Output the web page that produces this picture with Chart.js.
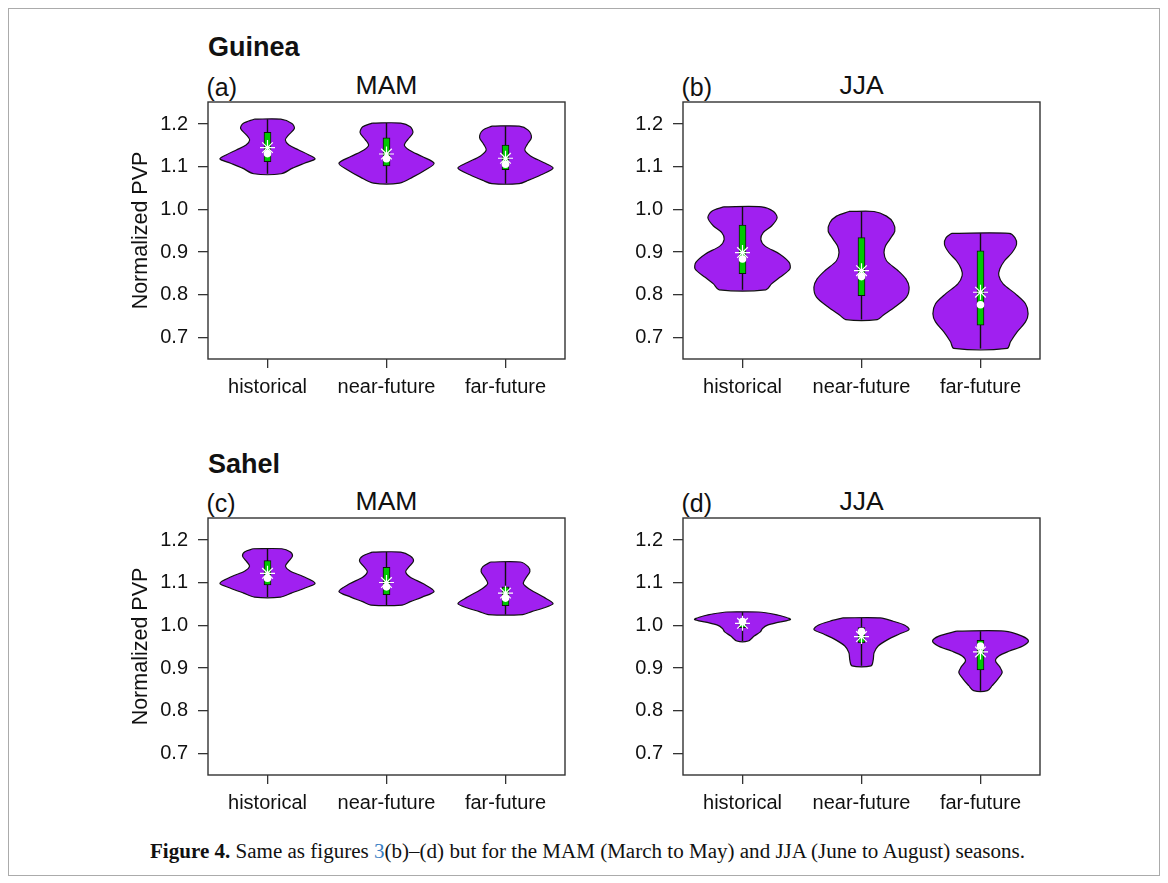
<!DOCTYPE html>
<html>
<head>
<meta charset="utf-8">
<script src="https://cdn.jsdelivr.net/npm/chart.js@4.4.1/dist/chart.umd.min.js"></script>
<style>
  html, body { margin: 0; padding: 0; background: #fff; }
  body { position: relative; width: 1168px; height: 883px; overflow: hidden;
         font-family: "Liberation Sans", Arial, sans-serif; color: #111; }
  .frame { position: absolute; left: 8px; top: 8px; width: 1152px; height: 868px;
           border: 1px solid #ababab; box-sizing: border-box; }
  .panel { position: absolute; width: 455px; height: 334px; }
  .txt { position: absolute; line-height: 1; white-space: nowrap; }
  .region { font-weight: bold; font-size: 27px; left: 208px; }
  .tag { font-size: 25px; }
  .season { font-size: 26.5px; width: 357px; text-align: center; }
  .caption { position: absolute; left: 150px; top: 841px; line-height: 1; white-space: nowrap;
             font-family: "Liberation Serif", "Times New Roman", serif; font-size: 20px; color: #111;
             transform-origin: 0 0; }
  .caption .ref { color: #3a7fc4; }
</style>
</head>
<body>
<div class="frame"></div>

<div class="txt region" style="top:34.4px">Guinea</div>
<div class="txt region" style="top:450.8px">Sahel</div>

<div class="txt tag" style="left:206.5px; top:74.8px">(a)</div>
<div class="txt tag" style="left:681.5px; top:74.8px">(b)</div>
<div class="txt tag" style="left:206.5px; top:491.2px">(c)</div>
<div class="txt tag" style="left:681.5px; top:491.2px">(d)</div>

<div class="txt season" style="left:208px; top:72px">MAM</div>
<div class="txt season" style="left:683px; top:72px">JJA</div>
<div class="txt season" style="left:208px; top:488.4px">MAM</div>
<div class="txt season" style="left:683px; top:488.4px">JJA</div>

<canvas id="pa" class="panel" width="455" height="334" style="left:120px; top:80px"></canvas>
<canvas id="pb" class="panel" width="455" height="334" style="left:595px; top:80px"></canvas>
<canvas id="pc" class="panel" width="455" height="334" style="left:120px; top:496px"></canvas>
<canvas id="pd" class="panel" width="455" height="334" style="left:595px; top:496px"></canvas>

<div class="caption" id="cap"><b>Figure 4.</b> Same as figures <span class="ref">3</span>(b)–(d) but for the MAM (March to May) and JJA (June to August) seasons.</div>

<script>
// ---- shared axis content ----
const categories = ['historical', 'near-future', 'far-future'];
const yTicks = [0.7, 0.8, 0.9, 1.0, 1.1, 1.2];
const yRange = [0.6495, 1.2519];

// ---- violin outlines: [value, half-width] pairs from top to bottom ----
// Guinea, MAM
const guineaMamShapes = [
  [[1.2116,0.112],[1.2015,0.205],[1.1898,0.226],[1.1743,0.176],[1.1627,0.150],[1.1511,0.180],
   [1.1395,0.262],[1.1278,0.348],[1.1185,0.400],[1.1084,0.310],[1.0968,0.210],[1.0837,0.115]],
  [[1.2025,0.120],[1.1937,0.200],[1.1798,0.222],[1.1642,0.180],[1.1512,0.150],[1.1395,0.190],
   [1.1240,0.300],[1.1084,0.400],[1.0930,0.330],[1.0758,0.220],[1.0619,0.110]],
  [[1.1953,0.115],[1.1860,0.190],[1.1689,0.218],[1.1535,0.185],[1.1395,0.162],[1.1256,0.210],
   [1.1100,0.320],[1.0968,0.400],[1.0814,0.300],[1.0681,0.190],[1.0605,0.115]]
];
const guineaMamQ1 = [1.112, 1.102, 1.093];
const guineaMamQ3 = [1.181, 1.168, 1.151];
const guineaMamMedian = [1.131, 1.119, 1.106];
const guineaMamMean = [1.145, 1.130, 1.120];

// Guinea, JJA
const guineaJjaShapes = [
  [[1.0061,0.160],[0.9960,0.258],[0.9805,0.291],[0.9612,0.244],[0.9457,0.174],[0.9302,0.154],
   [0.9147,0.188],[0.8953,0.314],[0.8759,0.392],[0.8604,0.398],[0.8410,0.314],[0.8255,0.244],[0.8116,0.196]],
  [[0.9953,0.105],[0.9844,0.210],[0.9690,0.266],[0.9495,0.280],[0.9300,0.238],[0.9147,0.202],
   [0.8990,0.189],[0.8798,0.210],[0.8565,0.308],[0.8372,0.373],[0.8177,0.400],[0.7944,0.378],
   [0.7712,0.280],[0.7519,0.182],[0.7418,0.133]],
  [[0.9441,0.241],[0.9340,0.289],[0.9185,0.303],[0.8991,0.266],[0.8798,0.202],[0.8604,0.162],
   [0.8449,0.154],[0.8255,0.190],[0.8022,0.294],[0.7790,0.378],[0.7557,0.400],[0.7364,0.378],
   [0.7131,0.308],[0.6898,0.252],[0.6743,0.224]]
];
const guineaJjaQ1 = [0.8495, 0.7977, 0.7286];
const guineaJjaQ3 = [0.9635, 0.9340, 0.9030];
const guineaJjaMedian = [0.8840, 0.8426, 0.7767];
const guineaJjaMean = [0.8990, 0.8565, 0.8060];

// Sahel, MAM
const sahelMamShapes = [
  [[1.1798,0.120],[1.1728,0.190],[1.1628,0.210],[1.1512,0.180],[1.1395,0.151],[1.1279,0.190],
   [1.1147,0.300],[1.0991,0.400],[1.0874,0.310],[1.0758,0.200],[1.0665,0.110]],
  [[1.1720,0.120],[1.1628,0.200],[1.1512,0.227],[1.1379,0.190],[1.1263,0.161],[1.1130,0.200],
   [1.0977,0.310],[1.0798,0.400],[1.0665,0.300],[1.0558,0.200],[1.0479,0.130]],
  [[1.1488,0.125],[1.1379,0.190],[1.1263,0.205],[1.1107,0.170],[1.0977,0.150],[1.0837,0.210],
   [1.0665,0.320],[1.0512,0.400],[1.0409,0.320],[1.0326,0.220],[1.0256,0.145]]
];
const sahelMamQ1 = [1.0953, 1.0721, 1.0465];
const sahelMamQ3 = [1.1519, 1.1363, 1.0907];
const sahelMamMedian = [1.1107, 1.0905, 1.0642];
const sahelMamMean = [1.1223, 1.1007, 1.0758];

// Sahel, JJA
const sahelJjaShapes = [
  [[1.0316,0.135],[1.0256,0.280],[1.0193,0.364],[1.0140,0.403],[1.0077,0.308],[1.0007,0.210],
   [0.9930,0.168],[0.9851,0.150],[0.9751,0.098],[0.9635,0.048]],
  [[1.0177,0.157],[1.0100,0.266],[1.0007,0.364],[0.9907,0.400],[0.9805,0.322],[0.9674,0.224],
   [0.9519,0.140],[0.9363,0.106],[0.9186,0.098],[0.9053,0.080]],
  [[0.9867,0.200],[0.9751,0.350],[0.9635,0.403],[0.9519,0.356],[0.9402,0.244],[0.9286,0.154],
   [0.9170,0.126],[0.9030,0.162],[0.8898,0.182],[0.8744,0.146],[0.8588,0.098],[0.8472,0.058]]
];
const sahelJjaQ1 = [0.995, 0.959, 0.896];
const sahelJjaQ3 = [1.013, 0.995, 0.965];
const sahelJjaMedian = [1.009, 0.986, 0.952];
const sahelJjaMean = [1.005, 0.974, 0.938];

// ---- styling ----
const violinFill = '#a020f0';
const boxFill = '#00c800';
const ink = '#111';
const axisInk = '#333';
const fontFamily = '"Liberation Sans", Arial, sans-serif';

// Stroke the full plot box around the chart area.
const plotBox = {
  id: 'plotBox',
  afterDraw(chart) {
    const {ctx, chartArea: a} = chart;
    ctx.save();
    ctx.strokeStyle = axisInk;
    ctx.lineWidth = 1.4;
    ctx.strokeRect(a.left, a.top, a.right - a.left, a.bottom - a.top);
    ctx.restore();
  }
};

function outline(shape, x) {
  // closed path: top-left, down the right side, back up the left side
  const right = shape.map(([v, w]) => ({x: x + w, y: v}));
  const left = shape.map(([v, w]) => ({x: x - w, y: v})).reverse();
  return [{x: x - shape[0][1], y: shape[0][0]}, ...right, ...left];
}

function buildPanel(id, shapes, q1, q3, median, mean, withTitle) {
  const datasets = [];
  shapes.forEach((shape, i) => {
    const x = i + 1;
    datasets.push({
      type: 'scatter', data: outline(shape, x), showLine: true, fill: 'shape',
      backgroundColor: violinFill, borderColor: ink, borderWidth: 1.2,
      pointRadius: 0, tension: 0.3, order: 5
    });
    datasets.push({
      type: 'scatter',
      data: [{x, y: shape[0][0]}, {x, y: shape[shape.length - 1][0]}],
      showLine: true, borderColor: ink, borderWidth: 1.4, pointRadius: 0, order: 4
    });
  });
  datasets.push({
    type: 'bar', data: q1.map((v, i) => ({x: i + 1, y: [v, q3[i]]})),
    backgroundColor: boxFill, borderColor: ink, borderWidth: 1, borderSkipped: false,
    barThickness: 7, order: 3
  });
  datasets.push({
    type: 'scatter', data: median.map((v, i) => ({x: i + 1, y: v})),
    pointStyle: 'circle', pointRadius: 3.8, backgroundColor: '#fff', borderColor: '#fff',
    borderWidth: 0, order: 2
  });
  datasets.push({
    type: 'scatter', data: mean.map((v, i) => ({x: i + 1, y: v})),
    pointStyle: 'star', pointRadius: 7.5, borderColor: '#fff', backgroundColor: '#fff',
    borderWidth: 1.2, order: 1
  });

  new Chart(document.getElementById(id), {
    type: 'scatter',
    data: {datasets},
    plugins: [plotBox],
    options: {
      responsive: false, maintainAspectRatio: false, animation: false, events: [],
      layout: {padding: {top: 20, right: 10, bottom: 0, left: 0}},
      plugins: {legend: {display: false}, tooltip: {enabled: false}},
      scales: {
        x: {
          type: 'linear', min: 0.5, max: 3.5, offset: false,
          afterBuildTicks: s => { s.ticks = categories.map((c, i) => ({value: i + 1})); },
          afterFit: s => { s.height = 55; },
          ticks: {
            callback: (v, i) => categories[i], color: ink, padding: 7,
            maxRotation: 0, autoSkip: false, font: {family: fontFamily, size: 20}
          },
          grid: {drawOnChartArea: false, offset: false, tickLength: 9, color: axisInk, lineWidth: 1.3},
          border: {display: false}
        },
        y: {
          type: 'linear', min: yRange[0], max: yRange[1], beginAtZero: false,
          afterBuildTicks: s => { s.ticks = yTicks.map(v => ({value: v})); },
          afterFit: s => { s.width = 88; },
          ticks: {
            callback: v => v.toFixed(1), color: ink, padding: 10,
            font: {family: fontFamily, size: 20}
          },
          grid: {drawOnChartArea: false, offset: false, tickLength: 10, color: axisInk, lineWidth: 1.3},
          border: {display: false},
          title: {
            display: withTitle, text: 'Normalized PVP', color: ink,
            padding: {top: 8, bottom: 0}, font: {family: fontFamily, size: 21.5}
          }
        }
      }
    }
  });
}

buildPanel('pa', guineaMamShapes, guineaMamQ1, guineaMamQ3, guineaMamMedian, guineaMamMean, true);
buildPanel('pb', guineaJjaShapes, guineaJjaQ1, guineaJjaQ3, guineaJjaMedian, guineaJjaMean, false);
buildPanel('pc', sahelMamShapes, sahelMamQ1, sahelMamQ3, sahelMamMedian, sahelMamMean, true);
buildPanel('pd', sahelJjaShapes, sahelJjaQ1, sahelJjaQ3, sahelJjaMedian, sahelJjaMean, false);

// fit the caption line to its printed width
const cap = document.getElementById('cap');
const capWidth = cap.getBoundingClientRect().width;
cap.style.transform = 'scaleX(' + (875 / capWidth) + ')';
</script>
</body>
</html>
